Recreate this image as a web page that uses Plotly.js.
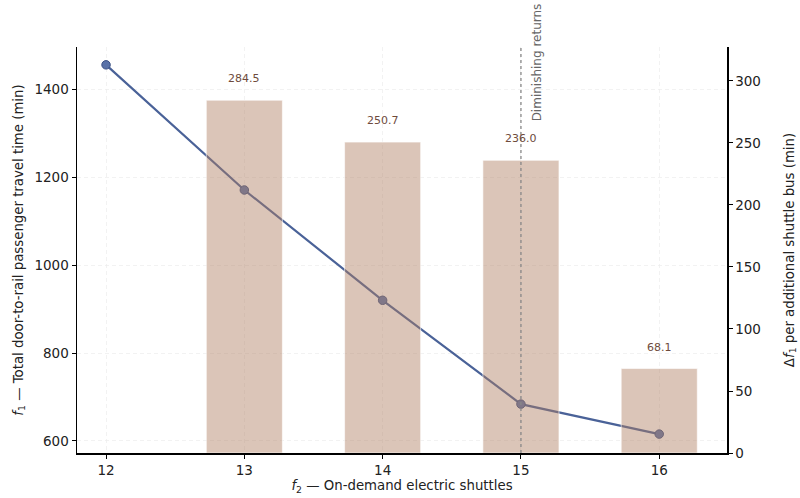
<!DOCTYPE html>
<html>
<head>
<meta charset="utf-8">
<script src="https://cdn.plot.ly/plotly-3.0.1.min.js"></script>
<style>
  html, body { margin: 0; padding: 0; background: #fff; }
  #chart { width: 800px; height: 498px; }
</style>
</head>
<body>
<div id="chart"></div>
<script>
// Fleet size (number of on-demand electric shuttles)
const shuttles = [12, 13, 14, 15, 16];
// Total door-to-rail passenger travel time f1 (min)
const totalTime = [1455.0, 1170.5, 919.8, 683.8, 615.7];
// Marginal reduction of f1 per extra shuttle (min)
const deltaShuttles = [13, 14, 15, 16];
const deltaTime = [284.5, 250.7, 236.0, 68.1];
const deltaLabels = ['284.5', '250.7', '236.0', '68.1'];
// Where returns start to diminish
const kneeX = 15;
const kneeLabel = 'Diminishing returns';

const font = 'DejaVu Sans, Liberation Sans, sans-serif';
const gridStyle = { showgrid: true, gridcolor: '#ececec', griddash: '4px,3px', gridwidth: 0.7 };

const lineTrace = {
  x: shuttles, y: totalTime, type: 'scatter', mode: 'lines+markers',
  yaxis: 'y', cliponaxis: false,
  line: { color: '#4a6298', width: 2.2 },
  marker: { color: '#5a72a8', size: 8.5, line: { color: '#3d5285', width: 1 } },
  hoverinfo: 'x+y', showlegend: false
};

const barTrace = {
  x: deltaShuttles, y: deltaTime, type: 'bar', yaxis: 'y2', width: 0.55,
  marker: { color: 'rgba(176,127,98,0.45)', line: { color: 'rgba(255,255,255,0.6)', width: 1 } },
  showlegend: false
};

const annotations = deltaShuttles.map((s, i) => ({
  x: s, y: deltaTime[i], xref: 'x', yref: 'y2', text: deltaLabels[i],
  showarrow: false, yanchor: 'bottom', yshift: 13,
  font: { family: font, size: 11, color: '#6e4b3c' }
}));
annotations.push({
  x: kneeX, xref: 'x', xshift: 16, y: 0.962, yref: 'paper', text: kneeLabel,
  textangle: -90, showarrow: false, xanchor: 'center', yanchor: 'middle',
  font: { family: font, size: 12, color: '#666666' }
});

const axisLine = { showline: true, linecolor: '#000', linewidth: 1.5, ticks: 'outside', ticklen: 4, tickcolor: '#000', zeroline: false, tickfont: { size: 13.5 } };

const layout = {
  width: 800, height: 498,
  margin: { l: 77, r: 73, t: 47, b: 45 },
  paper_bgcolor: '#ffffff', plot_bgcolor: '#ffffff',
  font: { family: font, size: 13, color: '#222222' },
  xaxis: Object.assign({}, axisLine, gridStyle, {
    range: [11.79, 16.49], tickvals: shuttles,
    title: { text: '<i>f</i><sub>2</sub> — On-demand electric shuttles', font: { size: 13.3 }, standoff: 4 }
  }),
  yaxis: Object.assign({}, axisLine, gridStyle, {
    range: [572.7, 1495.5], tickvals: [600, 800, 1000, 1200, 1400],
    title: { text: '<i>f</i><sub>1</sub> — Total door-to-rail passenger travel time (min)', font: { size: 13.3 }, standoff: 8 }
  }),
  yaxis2: Object.assign({}, axisLine, {
    overlaying: 'y', side: 'right', range: [0, 327.4], showgrid: false,
    tickvals: [0, 50, 100, 150, 200, 250, 300],
    title: { text: 'Δ<i>f</i><sub>1</sub> per additional shuttle bus (min)', font: { size: 13.3 }, standoff: 24 }
  }),
  shapes: [{
    type: 'line', xref: 'x', yref: 'paper', x0: kneeX, x1: kneeX, y0: 0, y1: 1,
    layer: 'above', line: { color: '#888888', width: 1.3, dash: 'dot' }
  }],
  annotations: annotations,
  showlegend: false
};

Plotly.newPlot('chart', [lineTrace, barTrace], layout, { displayModeBar: false, staticPlot: true });
</script>
</body>
</html>
